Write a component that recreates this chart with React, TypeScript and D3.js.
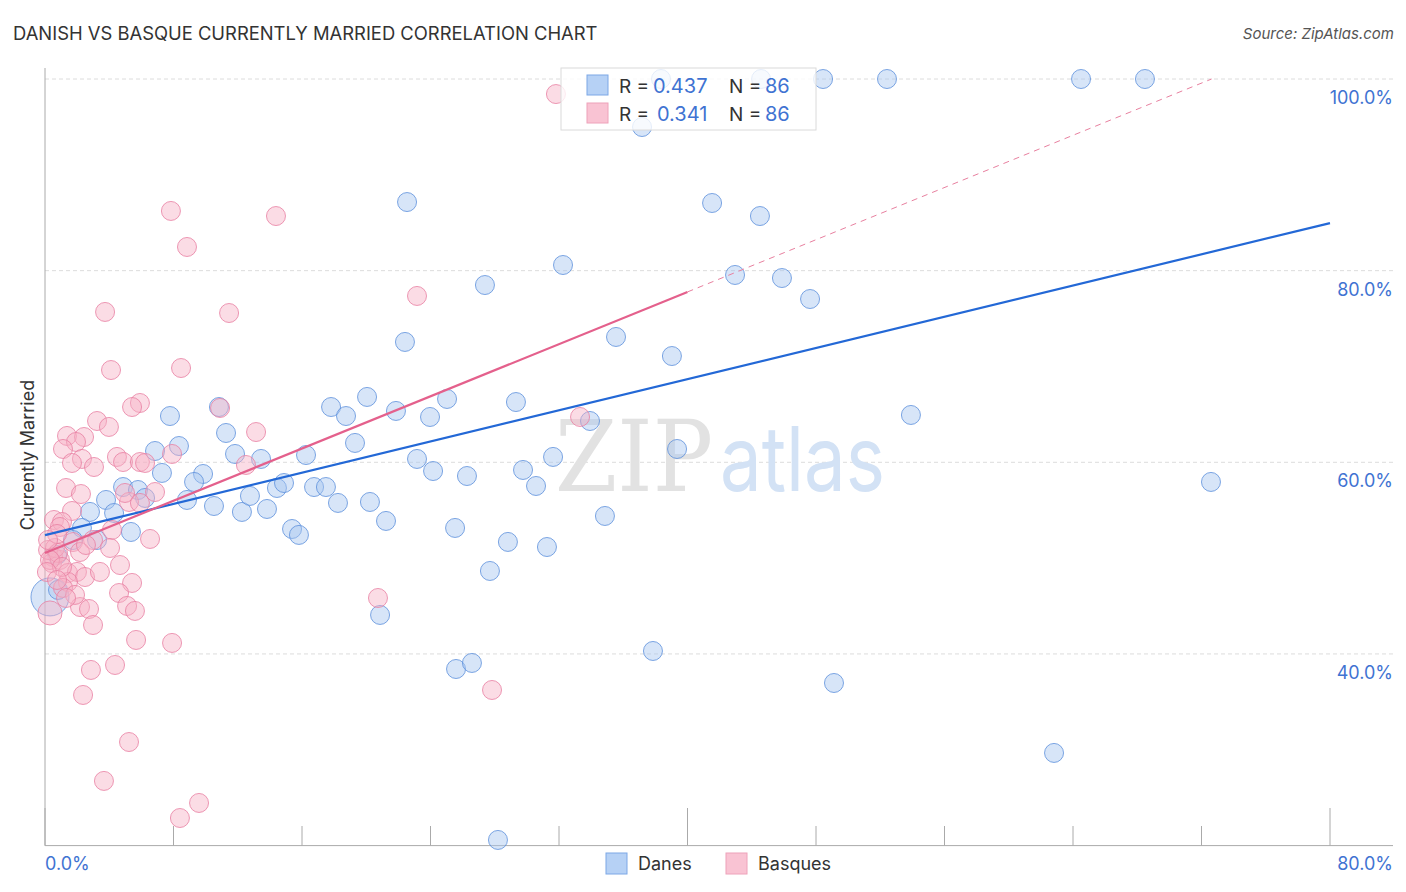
import React from 'react';
import * as d3 from 'd3';

// [x %, y %, weight]
const danes: [number, number, number][] = [
  [38.35, 100, 1], [44.58, 100, 1], [48.44, 100, 1], [52.42, 100, 1], [64.5, 100, 1], [68.48, 100, 1],
  [37.17, 94.99, 1], [22.54, 87.16, 1], [41.53, 87.06, 1], [44.51, 85.7, 1], [32.25, 80.59, 1],
  [27.39, 78.5, 1], [42.96, 79.55, 1], [45.88, 79.23, 1], [47.63, 77.04, 1], [22.41, 72.56, 1],
  [35.55, 73.08, 1], [39.03, 71.09, 1], [20.05, 66.82, 1], [17.81, 65.77, 1], [18.74, 64.83, 1],
  [21.85, 65.36, 1], [23.97, 64.73, 1], [25.03, 66.61, 1], [29.32, 66.29, 1], [53.91, 64.94, 1],
  [10.83, 65.77, 1], [7.78, 64.83, 1], [8.34, 61.7, 1], [6.85, 61.18, 1], [11.27, 63.06, 1],
  [11.83, 60.87, 1], [13.45, 60.35, 1], [16.25, 60.76, 1], [19.3, 62.02, 1], [23.16, 60.35, 1],
  [24.16, 59.09, 1], [26.27, 58.57, 1], [29.76, 59.2, 1], [30.57, 57.53, 1], [31.63, 60.56, 1],
  [33.93, 64.31, 1], [39.35, 61.39, 1], [72.59, 57.95, 1], [7.28, 58.89, 1], [9.84, 58.78, 1],
  [9.28, 57.95, 1], [8.84, 56.07, 1], [10.52, 55.44, 1], [12.26, 54.82, 1], [12.76, 56.49, 1],
  [13.82, 55.13, 1], [14.44, 57.32, 1], [14.88, 57.84, 1], [16.75, 57.42, 1], [17.49, 57.42, 1],
  [18.24, 55.76, 1], [20.23, 55.86, 1], [21.23, 53.88, 1], [15.38, 53.04, 1], [15.81, 52.42, 1],
  [25.53, 53.15, 1], [28.82, 51.69, 1], [31.25, 51.16, 1], [34.86, 54.4, 1], [27.7, 48.66, 1],
  [20.86, 44.07, 1], [25.59, 38.43, 1], [26.58, 39.06, 1], [37.85, 40.31, 1], [49.12, 36.97, 1],
  [62.82, 29.67, 1], [28.2, 20.59, 1], [3.8, 56.07, 1], [4.86, 57.42, 1], [5.79, 57.11, 1],
  [6.23, 56.28, 1], [2.8, 54.82, 1], [4.3, 54.71, 1], [2.3, 53.15, 1], [3.24, 51.89, 1],
  [5.35, 52.73, 1], [1.74, 51.89, 1], [0.75, 50.33, 1], [0.31, 45.95, 4], [0.81, 46.68, 1],
];

const basques: [number, number, number][] = [
  [31.81, 98.43, 1], [7.84, 86.23, 1], [14.38, 85.7, 1], [8.84, 82.47, 1], [23.16, 77.36, 1],
  [3.74, 75.69, 1], [11.46, 75.58, 1], [4.11, 69.63, 1], [8.47, 69.84, 1], [5.91, 66.19, 1],
  [5.42, 65.77, 1], [10.9, 65.67, 1], [3.24, 64.31, 1], [3.98, 63.69, 1], [13.14, 63.16, 1],
  [1.37, 62.75, 1], [2.43, 62.64, 1], [1.93, 62.12, 1], [1.12, 61.39, 1], [4.48, 60.56, 1],
  [4.86, 60.03, 1], [2.3, 60.35, 1], [1.68, 59.93, 1], [3.05, 59.51, 1], [5.91, 60.03, 1],
  [6.23, 59.93, 1], [7.91, 60.87, 1], [12.51, 59.72, 1], [33.31, 64.73, 1], [27.83, 36.24, 1],
  [1.31, 57.32, 1], [2.24, 56.69, 1], [1.68, 54.92, 1], [6.85, 56.9, 1], [5.23, 55.86, 1],
  [4.98, 56.8, 1], [5.91, 55.76, 1], [0.56, 53.98, 1], [1.06, 53.77, 1], [4.17, 52.94, 1],
  [6.54, 52.0, 1], [1.74, 51.68, 1], [2.99, 51.89, 1], [2.18, 50.64, 1], [0.5, 50.12, 1],
  [0.44, 49.49, 1], [0.93, 49.81, 1], [1.43, 48.45, 1], [1.99, 48.56, 1], [2.49, 48.03, 1],
  [3.42, 48.56, 1], [4.67, 49.28, 1], [1.43, 47.51, 1], [1.12, 46.89, 1], [5.42, 47.41, 1],
  [4.61, 46.36, 1], [2.18, 44.9, 1], [2.74, 44.69, 1], [5.11, 45.01, 1], [5.6, 44.49, 1],
  [2.99, 43.02, 1], [0.31, 44.28, 1.6], [5.67, 41.46, 1], [7.91, 41.15, 1], [20.73, 45.84, 1],
  [2.86, 38.33, 1], [4.36, 38.85, 1], [2.37, 35.72, 1], [5.23, 30.81, 1], [3.67, 26.75, 1],
  [9.59, 24.45, 1], [8.4, 22.88, 1], [0.19, 50.85, 1], [0.62, 51.06, 1], [0.81, 50.54, 1],
  [0.31, 49.81, 1], [1.06, 49.08, 1], [0.12, 48.55, 1], [0.75, 47.72, 1], [0.93, 53.25, 1],
  [2.55, 51.37, 1], [0.75, 52.52, 1], [4.05, 51.06, 1], [1.87, 46.16, 1], [1.31, 45.84, 1],
  [0.19, 51.89, 1],
];

// trend lines: value at x=0 and slope per x %
const trendDanes = { intercept: 52.4, slope: 0.407, solidTo: 80 };
const trendBasques = { intercept: 50.54, slope: 0.681, solidTo: 40 };

const yTicks = [40, 60, 80, 100];
const xTicks = [0, 8, 16, 24, 32, 40, 48, 56, 64, 72, 80];
const legendRows = [
  { r: '0.437', n: '86' },
  { r: '0.341', n: '86' },
];
const seriesNames = ['Danes', 'Basques'];

const W = 1406;
const H = 892;
const FONT = 'Inter, "Open Sans", sans-serif';
const BLUE_TEXT = '#3f73d2';

const App: React.FC = () => {
  const x = d3.scaleLinear().domain([0, 80]).range([45, 1330]);
  const y = d3.scaleLinear().domain([20, 100]).range([845.6, 79]);
  const r = d3.scaleSqrt().domain([0, 1]).range([0, 9.5]);
  const xRight = 1393;

  const line = d3
    .line<[number, number]>()
    .x(d => x(d[0]))
    .y(d => y(d[1]));

  const trendPts = (t: { intercept: number; slope: number }, a: number, b: number): [number, number][] => [
    [a, t.intercept + t.slope * a],
    [b, t.intercept + t.slope * b],
  ];
  const basqueEnd = (100 - trendBasques.intercept) / trendBasques.slope;

  const series = [
    { data: danes, fill: '#a7c6f0', stroke: '#5d90dc' },
    { data: basques, fill: '#f6b2c6', stroke: '#e880a2' },
  ];

  return (
    <svg width={W} height={H} style={{ position: 'absolute', left: 0, top: 0, background: '#fff' }}>
      <text x={13} y={40} fontFamily={FONT} fontSize={18.4} fill="#333">
        DANISH VS BASQUE CURRENTLY MARRIED CORRELATION CHART
      </text>
      <text x={1394} y={39} textAnchor="end" fontFamily={FONT} fontSize={15} fontStyle="italic" fill="#555">
        Source: ZipAtlas.com
      </text>

      {/* gridlines */}
      {yTicks.map(t => (
        <line key={t} x1={45} x2={xRight} y1={y(t)} y2={y(t)} stroke="#dcdcdc" strokeDasharray="4,3" />
      ))}

      {/* watermark */}
      <text
        x={555}
        y={491}
        fontFamily='"DejaVu Serif", "Liberation Serif", serif'
        fontSize={100}
        fill="#e2e2e2"
        textLength={158}
        lengthAdjust="spacingAndGlyphs"
      >
        ZIP
      </text>
      <text x={720} y={491} fontFamily={FONT} fontSize={90} fill="#d3e2f5" textLength={165} lengthAdjust="spacingAndGlyphs">
        atlas
      </text>

      {/* axes */}
      <line x1={45} x2={45} y1={68} y2={845.6} stroke="#aaa" />
      <line x1={45} x2={xRight} y1={845.6} y2={845.6} stroke="#aaa" />
      {xTicks.map(t => (
        <line
          key={t}
          x1={x(t)}
          x2={x(t)}
          y1={t % 40 === 0 ? 808 : 826}
          y2={845.6}
          stroke="#aaa"
        />
      ))}
      {yTicks.map(t => (
        <text key={t} x={xRight} y={y(t) + 25} textAnchor="end" fontFamily={FONT} fontSize={18} fill={BLUE_TEXT}>
          {d3.format('.1f')(t)}%
        </text>
      ))}
      <text x={45} y={870} fontFamily={FONT} fontSize={18} fill={BLUE_TEXT}>
        0.0%
      </text>
      <text x={xRight} y={870} textAnchor="end" fontFamily={FONT} fontSize={18} fill={BLUE_TEXT}>
        80.0%
      </text>
      <text
        transform="translate(34,455) rotate(-90)"
        textAnchor="middle"
        fontFamily={FONT}
        fontSize={18}
        fill="#333"
      >
        Currently Married
      </text>

      {/* points */}
      {series.map((s, si) => (
        <g key={si}>
          {s.data.map((d, i) => (
            <circle
              key={i}
              cx={x(d[0])}
              cy={y(d[1])}
              r={r(d[2])}
              fill={s.fill}
              fillOpacity={0.45}
              stroke={s.stroke}
              strokeOpacity={0.8}
              strokeWidth={1}
            />
          ))}
        </g>
      ))}

      {/* trend lines */}
      <path d={line(trendPts(trendDanes, 0, trendDanes.solidTo)) || ''} stroke="#2368d6" strokeWidth={2.2} fill="none" />
      <path d={line(trendPts(trendBasques, 0, trendBasques.solidTo)) || ''} stroke="#e4608c" strokeWidth={2.2} fill="none" />
      <path
        d={line(trendPts(trendBasques, trendBasques.solidTo, basqueEnd)) || ''}
        stroke="#e8809f"
        strokeWidth={1}
        strokeDasharray="6,5"
        fill="none"
      />

      {/* top legend */}
      <rect x={561} y={68} width={255} height={62} fill="#fff" fillOpacity={0.8} stroke="#dadada" />
      {legendRows.map((row, i) => (
        <g key={i} transform={`translate(0, ${i * 28})`}>
          <rect
            x={587}
            y={75}
            width={21}
            height={20}
            fill={i === 0 ? '#b6d1f5' : '#f9c3d3'}
            stroke={i === 0 ? '#7ca7e6' : '#eea2ba'}
          />
          <text x={619} y={93} fontFamily={FONT} fontSize={19} fill="#333">
            R =
          </text>
          <text x={i === 0 ? 653 : 657} y={93} fontFamily={FONT} fontSize={20} fill={BLUE_TEXT}>
            {row.r}
          </text>
          <text x={729} y={93} fontFamily={FONT} fontSize={19} fill="#333">
            N =
          </text>
          <text x={765} y={93} fontFamily={FONT} fontSize={20} fill={BLUE_TEXT}>
            {row.n}
          </text>
        </g>
      ))}

      {/* bottom legend */}
      {seriesNames.map((name, i) => (
        <g key={name} transform={`translate(${i === 0 ? 606 : 726}, 853)`}>
          <rect
            width={21}
            height={21}
            fill={i === 0 ? '#b6d1f5' : '#f9c3d3'}
            stroke={i === 0 ? '#7ca7e6' : '#eea2ba'}
          />
          <text x={32} y={17} fontFamily={FONT} fontSize={18} fill="#333">
            {name}
          </text>
        </g>
      ))}
    </svg>
  );
};

export default App;
